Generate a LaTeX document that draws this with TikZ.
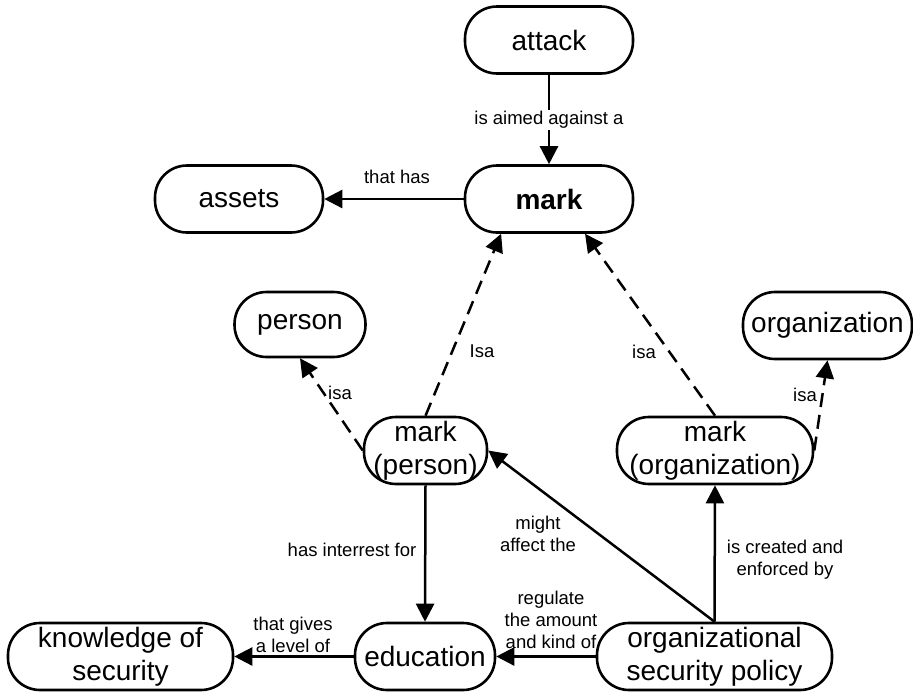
\documentclass[tikz,border=0pt]{standalone}
\usepackage{fontspec}
\setmainfont{Liberation Sans}
\usetikzlibrary{arrows.meta}
\begin{document}
\begin{tikzpicture}[x=1pt,y=-1pt,
  concept/.style={draw, line width=2.6pt, rounded corners=32pt, inner sep=0pt,
    align=center, minimum height=67pt, font=\fontsize{28pt}{33pt}\selectfont},
  lbl/.style={inner sep=1pt, align=center, font=\fontsize{18.5pt}{22pt}\selectfont},
  link/.style={line width=2.5pt, -{Triangle[length=18pt,width=18pt]}},
  isalink/.style={link, dash pattern=on 14pt off 8pt},
]
\fill[white] (0,0) rectangle (913,691);
\useasboundingbox (0,0) rectangle (913,691);

% concepts
\node[concept, minimum width=168pt] (attack) at (549,40) {attack};
\node[concept, minimum width=168pt, font=\fontsize{28pt}{33pt}\selectfont\bfseries] (mark) at (549,199) {mark};
\node[concept, minimum width=168pt] (assets) at (239,199) {assets};
\node[concept, minimum width=131pt, minimum height=65pt] (person) at (300,324.5) {person};
\node[concept, minimum width=169pt] (org) at (827.5,325.5) {organization};
\node[concept, minimum width=123pt] (mp) at (425.5,450.5) {mark\\(person)};
\node[concept, minimum width=196pt] (mo) at (715,450.5) {mark\\(organization)};
\node[concept, minimum width=225pt] (know) at (120.5,656.5) {knowledge of\\security};
\node[concept, minimum width=140pt] (edu) at (425,656.5) {education};
\node[concept, minimum width=235pt] (osp) at (714.5,656.5) {organizational\\security policy};

% relations
\draw[link] (attack) -- (mark);
\draw[link] (mark) -- (assets);
\draw[isalink] (mp.north) -- (mark.216.9);
\draw[isalink] (mo.north) -- (mark.-44.2);
\draw[isalink] (mp.west) -- (person.south);
\draw[isalink] (mo.east) -- (org.south);
\draw[link] (mp.south) -- (edu.north);
\draw[link] (osp.north) -- (mo.south);
\draw[link] (osp.north) -- (mp.east);
\draw[link] (osp) -- (edu);
\draw[link] (edu) -- (know);

% relation labels
\node[lbl, fill=white] (l1) at (549,120) {is aimed against a};
\node[lbl] (l2) at (397,177) {that has};
\node[lbl] (l3) at (482,351) {Isa};
\node[lbl] (l4) at (644,352) {isa};
\node[lbl] (l5) at (340,393) {isa};
\node[lbl] (l6) at (805,395) {isa};
\node[lbl] (l7) at (352,550) {has interrest for};
\node[lbl] (l8) at (293,634.5) {that gives\\a level of};
\node[lbl] (l9) at (551,620) {regulate\\the amount\\and kind of};
\node[lbl] (l10) at (538,533.5) {might\\affect the};
\node[lbl] (l11) at (785,559.5) {is created and\\enforced by};
\end{tikzpicture}
\end{document}
